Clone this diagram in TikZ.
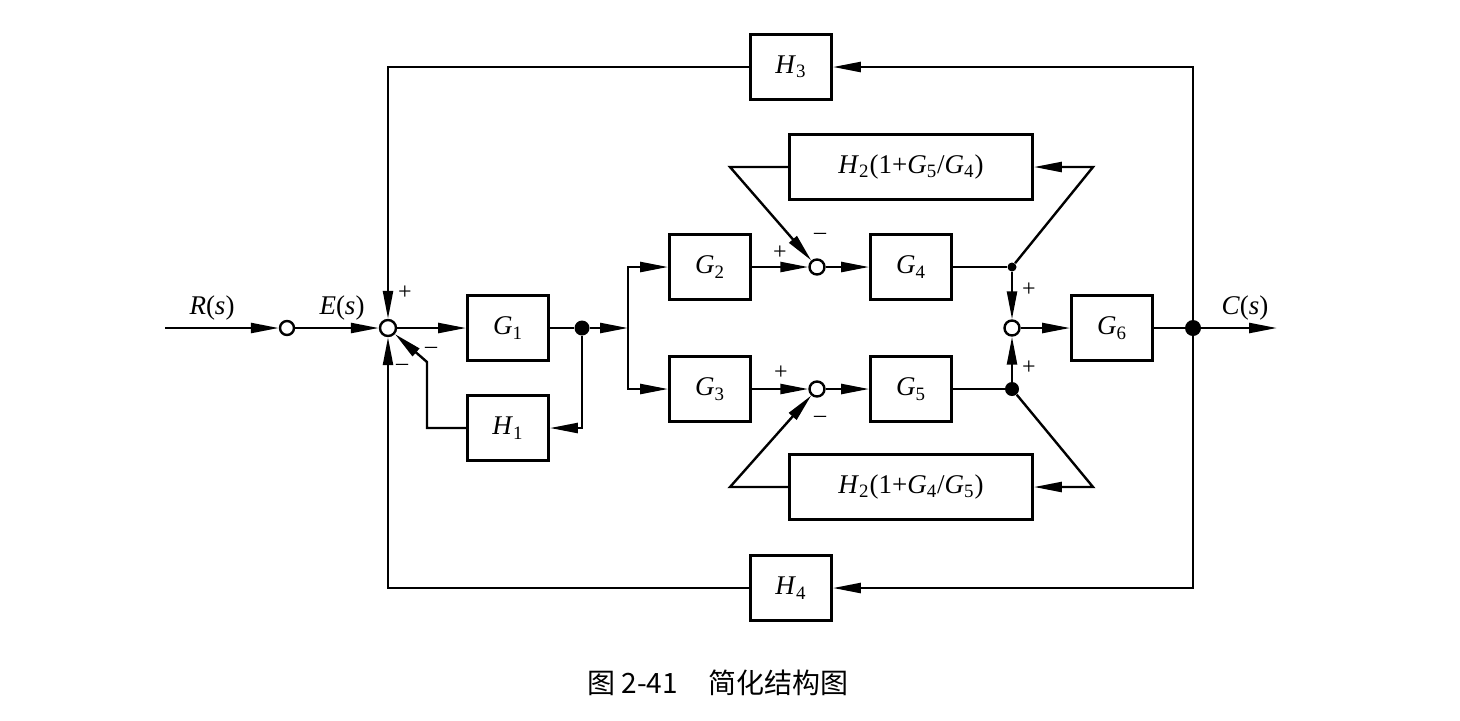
\documentclass[tikz,border=0pt]{standalone}
\usepackage{fontspec}
\setmainfont{Liberation Serif}
\newfontfamily\cjk{Noto Sans CJK SC}
\usetikzlibrary{arrows.meta}

\tikzset{
		every node/.style={font=\fontsize{13.5}{16}\selectfont},
		block/.style={draw, line width=1.4pt, minimum width=40.5pt, minimum height=32.5pt, inner sep=0pt},
		wide/.style={block, minimum width=121.5pt},
		sum/.style={circle, draw, fill=white, line width=1.2pt, inner sep=0pt, minimum size=7.5pt},
		dot/.style={circle, fill, inner sep=0pt, minimum size=7.5pt},
		sign/.style={font=\fontsize{12}{14}\selectfont},
		wire/.style={line width=1.2pt},
		arrow/.style={wire, -{Triangle[length=14pt,width=5pt]}}
	}
\newcommand{\tfn}[2]{\textit{#1}\textsubscript{#2}}

\begin{document}
\begin{tikzpicture}[x=0.5pt,y=-0.5pt]
\useasboundingbox (0,0) rectangle (1460,720);

% forward path
\coordinate (in) at (165,328);
\node (r0) at (287,328) [sum, minimum size=7pt] {};
\node (s1) at (388,328) [sum, minimum size=8pt] {};
\node (G1) at (508,328) [block] {\tfn{G}{1}};
\node (d1) at (582,328) [dot] {};
\coordinate (br) at (628,328);

\node (G2) at (710,267) [block] {\tfn{G}{2}};
\node (G3) at (710,389) [block] {\tfn{G}{3}};
\node (s2) at (817,267) [sum] {};
\node (s3) at (817,389) [sum] {};
\node (G4) at (911,267) [block] {\tfn{G}{4}};
\node (G5) at (911,389) [block] {\tfn{G}{5}};
\node (d2) at (1012,267) [dot, minimum size=4.5pt] {};
\node (d3) at (1012,389) [dot, minimum size=7pt] {};
\node (s4) at (1012,328) [sum] {};
\node (G6) at (1112,328) [block] {\tfn{G}{6}};
\node (d4) at (1193,328) [dot, minimum size=8pt] {};
\coordinate (out) at (1277,328);

% feedback blocks
\node (H1) at (508,428) [block] {\tfn{H}{1}};
\node (H2a) at (911,167) [wide] {\tfn{H}{2}(1+\tfn{G}{5}/\tfn{G}{4})};
\node (H2b) at (911,487) [wide] {\tfn{H}{2}(1+\tfn{G}{4}/\tfn{G}{5})};
\node (H3) at (791,67) [block] {\tfn{H}{3}};
\node (H4) at (791,588) [block] {\tfn{H}{4}};

\coordinate (h1k) at (427,362);
\coordinate (kal) at (730,167);
\coordinate (kar) at (1093,167);
\coordinate (kbl) at (730,487);
\coordinate (kbr) at (1093,487);

% signals
\node (R) at (212,308) {\textit{R}(\textit{s})};
\node (E) at (342,308) {\textit{E}(\textit{s})};
\node (C) at (1245,308) {\textit{C}(\textit{s})};

\draw [arrow] (in) -- (r0);
\draw [arrow] (r0) -- (s1);
\draw [arrow] (s1) -- (G1);
\draw [wire] (G1) -- (d1);
\draw [arrow] (d1) -- (br);
\draw [arrow] (br) |- (G2);
\draw [arrow] (br) |- (G3);
\draw [arrow] (G2) -- (s2);
\draw [arrow] (G3) -- (s3);
\draw [arrow] (s2) -- (G4);
\draw [arrow] (s3) -- (G5);
\draw [wire] (G4) -- (d2);
\draw [wire] (G5) -- (d3);
\draw [arrow] (d2) -- (s4);
\draw [arrow] (d3) -- (s4);
\draw [arrow] (s4) -- (G6);
\draw [wire] (G6) -- (d4);
\draw [arrow] (d4) -- (out);

\draw [arrow] (d1) |- (H1.east);
\draw [arrow] (H1.west) -| (h1k) -- (s1);
\draw [arrow] (d2) -- (kar) -- (H2a.east);
\draw [arrow] (H2a.west) -- (kal) -- (s2);
\draw [arrow] (d3) -- (kbr) -- (H2b.east);
\draw [arrow] (H2b.west) -- (kbl) -- (s3);
\draw [arrow] (d4) |- (H3.east);
\draw [arrow] (H3.west) -| (s1);
\draw [arrow] (d4) |- (H4.east);
\draw [arrow] (H4.west) -| (s1);

% signs
\node (p1) at (405,293) [sign] {+};
\node (m1) at (402,367) [sign] {\textendash};
\node (m2) at (431,350) [sign] {\textendash};
\node (p2) at (780,253) [sign] {+};
\node (m3) at (820,236) [sign] {\textendash};
\node (p3) at (781,373) [sign] {+};
\node (m4) at (820,419) [sign] {\textendash};
\node (p4) at (1029,290) [sign] {+};
\node (p5) at (1029,368) [sign] {+};

\node (cap) at (718,683) {\cjk\fontsize{14}{16}\selectfont 图 2-41\hspace{1.1em}简化结构图};

\end{tikzpicture}
\end{document}
